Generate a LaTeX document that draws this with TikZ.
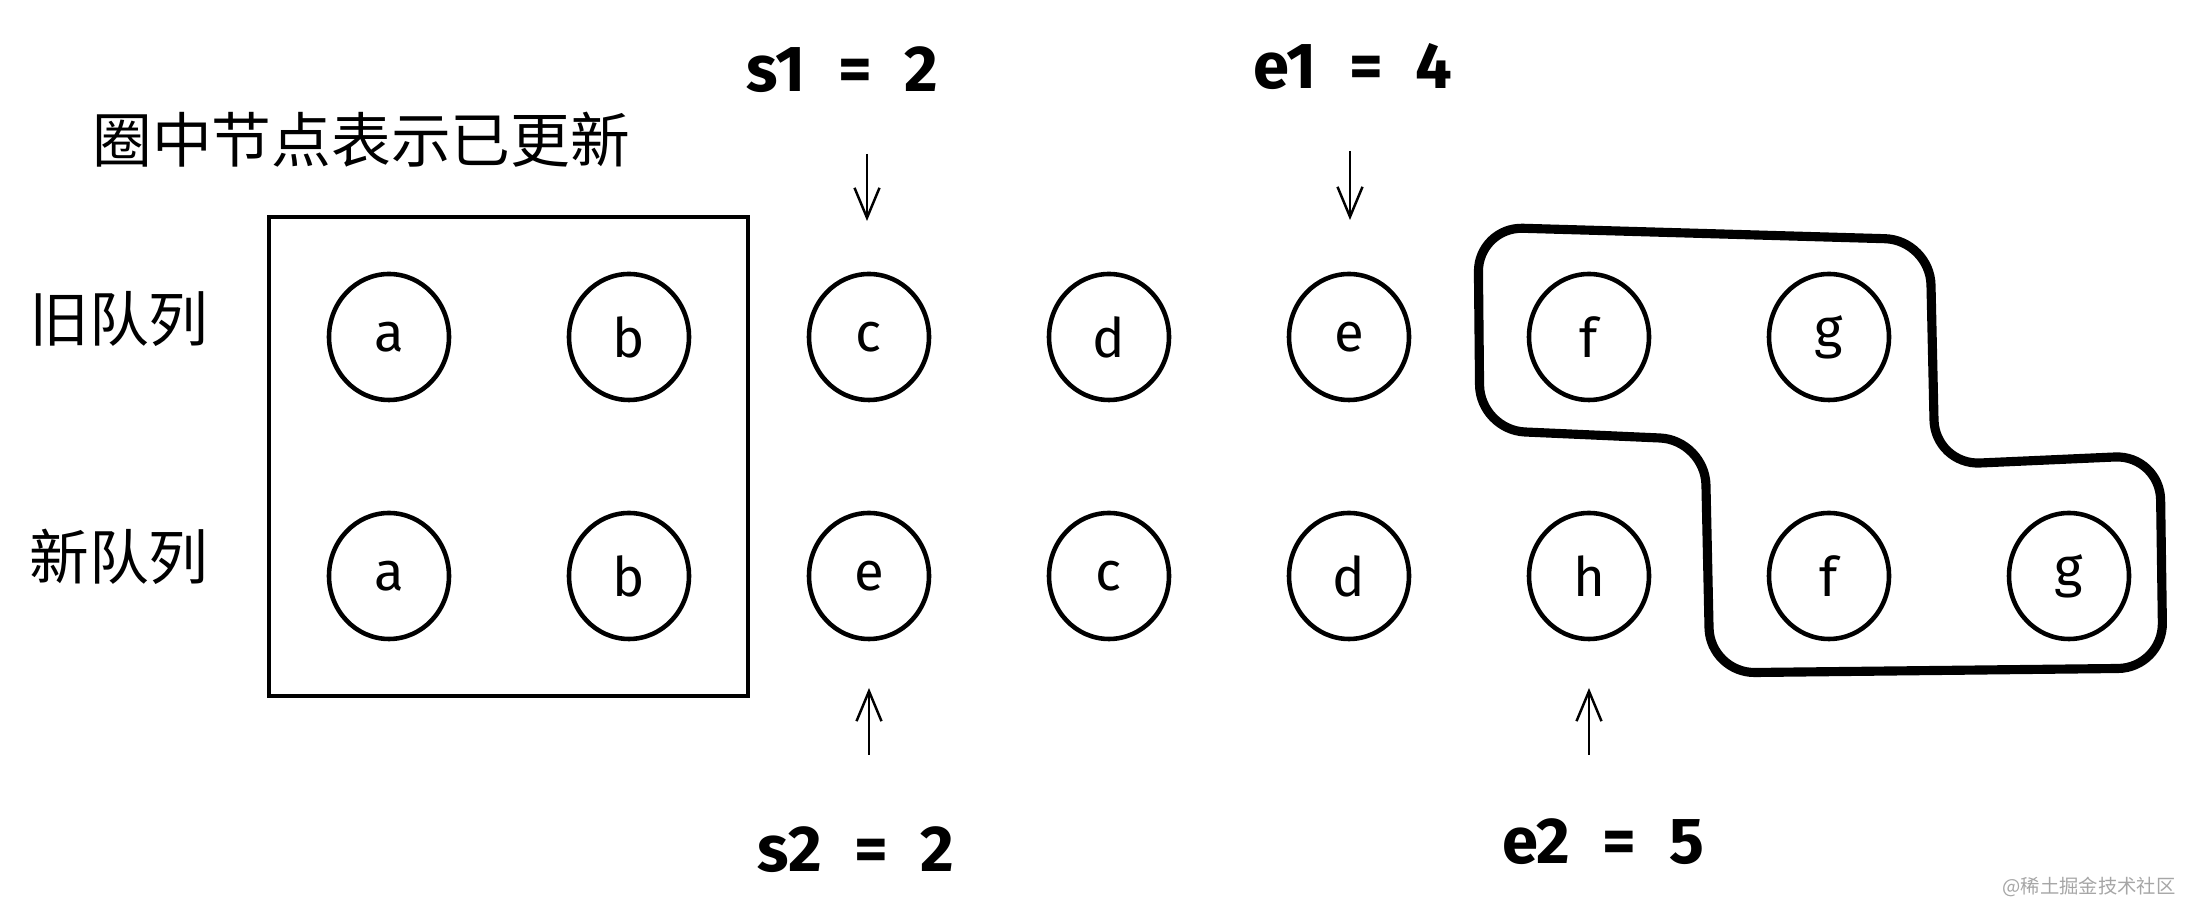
\documentclass[tikz,border=0pt]{standalone}
\usepackage{fontspec}
\usepackage{tikz}
\usetikzlibrary{shapes.geometric,arrows.meta}
\setmainfont{Fira Sans}
\newfontfamily\cjk{Noto Sans CJK SC}
\newcommand{\gap}{\hspace{0.5em}}

\begin{document}
\begin{tikzpicture}[
  item/.style={draw, ellipse, line width=1.3pt, minimum width=1.2cm, minimum height=1.26cm, inner sep=0pt, font=\fontsize{15.5}{15.5}\selectfont},
  idx/.style={font=\bfseries\fontsize{18.5}{18.5}\selectfont},
  rowname/.style={font=\cjk\fontsize{17}{17}\selectfont},
  pointer/.style={line width=0.7pt, -{Straight Barb[length=3mm,width=2.5mm]}}
]
\useasboundingbox (0,0) rectangle (21.93,9.21);

\node[rowname, anchor=west] (title) at (0.80,7.81) {圈中节点表示已更新};
\node[rowname] (oldq) at (1.19,6.02) {旧队列};
\node[rowname] (newq) at (1.19,3.64) {新队列};

% already updated part
\draw[line width=1pt] (2.69,7.04) rectangle (7.48,2.25);

% old queue
\node[item] (o1) at (3.89,5.84) {a};
\node[item] (o2) at (6.29,5.84) {b};
\node[item] (o3) at (8.69,5.84) {c};
\node[item] (o4) at (11.09,5.84) {d};
\node[item] (o5) at (13.49,5.84) {e};
\node[item] (o6) at (15.89,5.84) {f};
\node[item] (o7) at (18.29,5.84) {g};

% new queue
\node[item] (n1) at (3.89,3.45) {a};
\node[item] (n2) at (6.29,3.45) {b};
\node[item] (n3) at (8.69,3.45) {e};
\node[item] (n4) at (11.09,3.45) {c};
\node[item] (n5) at (13.49,3.45) {d};
\node[item] (n6) at (15.89,3.45) {h};
\node[item] (n7) at (18.29,3.45) {f};
\node[item] (n8) at (20.69,3.45) {g};

% pointers
\node[idx] (s1) at (8.42,8.51) {s1\gap=\gap2};
\node[idx] (e1) at (13.53,8.54) {e1\gap=\gap4};
\node[idx] (s2) at (8.56,0.71) {s2\gap=\gap2};
\node[idx] (e2) at (16.03,0.79) {e2\gap=\gap5};
\coordinate (s1a) at (8.67,7.67);
\coordinate (s1b) at (8.67,7.00);
\coordinate (e1a) at (13.50,7.70);
\coordinate (e1b) at (13.50,7.01);
\coordinate (s2a) at (8.69,1.66);
\coordinate (s2b) at (8.69,2.33);
\coordinate (e2a) at (15.89,1.66);
\coordinate (e2b) at (15.89,2.33);
\draw[pointer] (s1a) -- (s1b);
\draw[pointer] (e1a) -- (e1b);
\draw[pointer] (s2a) -- (s2b);
\draw[pointer] (e2a) -- (e2b);

% unchanged tail
\draw[line width=2.6pt, rounded corners=0.45cm]
  (14.78,6.94) -- (19.30,6.81) -- (19.35,4.56) -- (21.60,4.66)
  -- (21.63,2.53) -- (17.10,2.48) -- (17.05,4.81) -- (14.80,4.91) -- cycle;

\node[text=black!35, font=\cjk\fontsize{5.5}{5.5}\selectfont] (mark) at (20.89,0.34) {@稀土掘金技术社区};
\end{tikzpicture}
\end{document}
